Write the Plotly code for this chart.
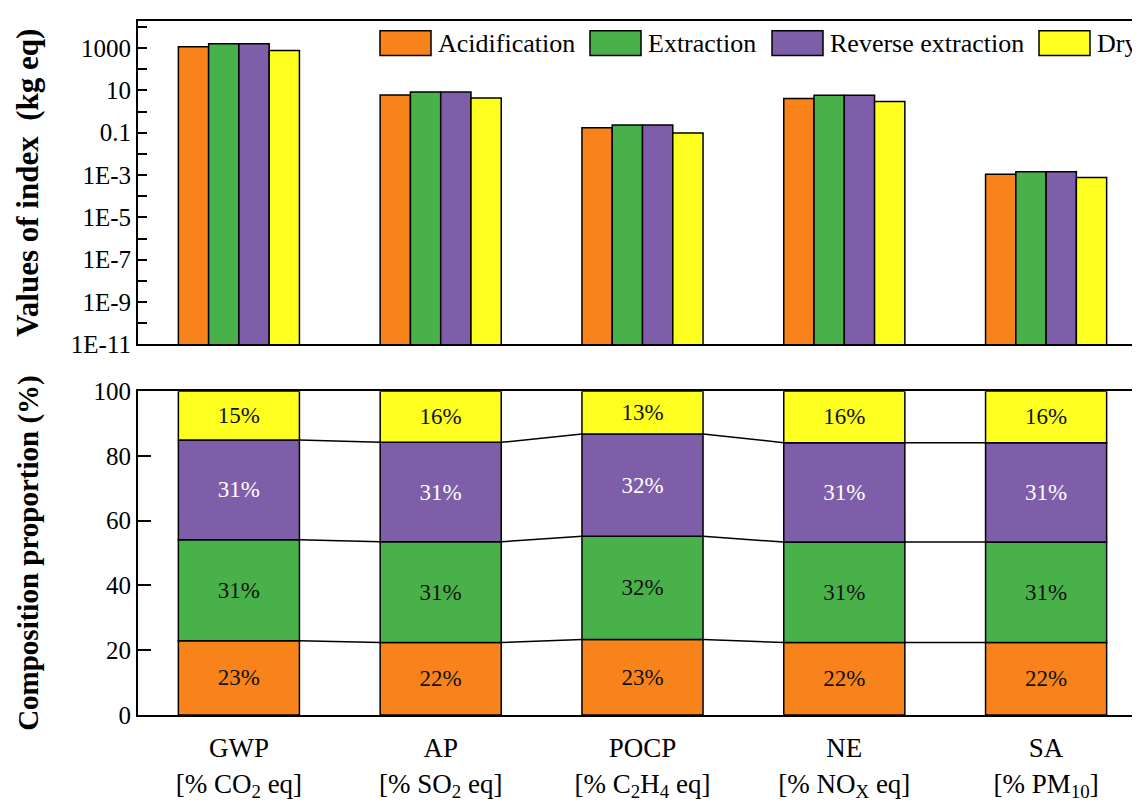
import numpy as np
import plotly.graph_objects as go

# ---------------- data ----------------
categories = ["GWP", "AP", "POCP", "NE", "SA"]
category_labels = [
    "GWP<br>[% CO<sub>2</sub> eq]",
    "AP<br>[% SO<sub>2</sub> eq]",
    "POCP<br>[% C<sub>2</sub>H<sub>4</sub> eq]",
    "NE<br>[% NO<sub>X</sub> eq]",
    "SA<br>[% PM<sub>10</sub>]",
]
series = ["Acidification", "Extraction", "Reverse extraction", "Dry"]

# top panel: values of index (kg eq), log scale
acidification = [1150, 6.0, 0.17, 4.2, 1.08e-3]
extraction = [1600, 8.3, 0.235, 5.9, 1.45e-3]
reverse_extraction = [1600, 8.3, 0.235, 5.9, 1.45e-3]
dry = [770, 4.4, 0.096, 3.0, 7.6e-4]

# bottom panel: composition proportion (%)
pct_acidification = [22.9, 22.4, 23.3, 22.4, 22.4]
pct_extraction = [31.2, 31.1, 31.9, 31.0, 31.0]
pct_reverse_extraction = [30.8, 30.7, 31.6, 30.7, 30.7]
pct_dry = [15.1, 15.8, 13.2, 15.9, 15.9]

y_tick_vals = [1e3, 1e1, 1e-1, 1e-3, 1e-5, 1e-7, 1e-9, 1e-11]
y_tick_text = ["1000", "10", "0.1", "1E-3", "1E-5", "1E-7", "1E-9", "1E-11"]
y_minor_vals = [1e4, 1e2, 1e0, 1e-2, 1e-4, 1e-6, 1e-8, 1e-10]

# ---------------- style ----------------
colors = ["#F8831A", "#49B14A", "#7E5EA8", "#FFFF1F"]
text_colors = ["#111111", "#111111", "#FFFFFF", "#111111"]
FONT = "Liberation Serif, Times New Roman, serif"
OFF = 8                      # page body margin of the html page
W, H = 1140 - OFF, 806 - OFF
ML, MR, MT = 138 - OFF, 0, 11 - OFF
MB = H - (715 - OFF)
BAR_W = 0.6

top_vals = [acidification, extraction, reverse_extraction, dry]
pct_vals = [pct_acidification, pct_extraction, pct_reverse_extraction, pct_dry]
xpos = np.arange(len(categories))

fig = go.Figure()

# top grouped log bars
for name, vals, col in zip(series, top_vals, colors):
    fig.add_trace(go.Bar(
        x=xpos, y=vals, name=name, marker=dict(color=col, line=dict(color="black", width=1.5)),
        xaxis="x", yaxis="y", showlegend=False,
    ))

# bottom stacked bars (explicit base)
base = np.zeros(len(categories))
bounds = []
for name, vals, col, tcol in zip(series, pct_vals, colors, text_colors):
    vals = np.array(vals)
    fig.add_trace(go.Bar(
        x=xpos, y=vals, base=base.copy(), name=name,
        width=BAR_W, offset=-BAR_W / 2,
        marker=dict(color=col, line=dict(color="black", width=1.5)),
        texttemplate="%{y:.0f}%", textposition="inside", insidetextanchor="middle",
        textangle=0, constraintext="none",
        textfont=dict(family=FONT, size=23, color=tcol),
        xaxis="x2", yaxis="y2", showlegend=False,
    ))
    base = base + vals
    bounds.append(base.copy())

# connecting lines between stacked bars
for b in bounds[:-1]:
    lx, ly = [], []
    for i in range(len(categories) - 1):
        lx += [xpos[i] + BAR_W / 2, xpos[i + 1] - BAR_W / 2, None]
        ly += [b[i], b[i + 1], None]
    fig.add_trace(go.Scatter(x=lx, y=ly, mode="lines", line=dict(color="black", width=1.5),
                             xaxis="x2", yaxis="y2", showlegend=False, hoverinfo="skip"))

# ---------------- layout ----------------
plot_w = W - ML - MR
plot_h = H - MT - MB
px_per_unit = 201.8
x_range = [-0.5, -0.5 + plot_w / px_per_unit]

def ypaper(py):
    # py: screen pixel y
    return (H - MB - (py - OFF)) / plot_h

def xpaper(px):
    return (px - OFF - ML) / plot_w

top_domain = [ypaper(339), 1]
bot_domain = [0, ypaper(386.5)]

axis_common = dict(showline=True, linecolor="black", linewidth=2, showgrid=False, zeroline=False)

fig.update_layout(
    width=W, height=H,
    margin=dict(l=ML, r=MR, t=MT, b=MB),
    paper_bgcolor="white", plot_bgcolor="white",
    barmode="group", bargap=0.4, bargroupgap=0,
    font=dict(family=FONT, color="black"),
    xaxis=dict(domain=[0, 1], anchor="y", range=x_range, mirror=True, ticks="",
               showticklabels=False, **axis_common),
    yaxis=dict(domain=top_domain, anchor="x", type="log", range=[-11, 4.28],
               tickmode="array", tickvals=y_tick_vals, ticktext=y_tick_text,
               ticks="inside", ticklen=9, tickwidth=2, tickcolor="black",
               minor=dict(tickvals=y_minor_vals, ticks="inside", ticklen=9, tickwidth=2, tickcolor="black"),
               tickfont=dict(family=FONT, size=25), ticklabelstandoff=0,
               title=dict(text="<b>Values of index  (kg eq)</b>", font=dict(family=FONT, size=31), standoff=23),
               **axis_common),
    xaxis2=dict(domain=[0, 1], anchor="y2", range=x_range, mirror=True, ticks="",
                tickmode="array", tickvals=xpos, ticktext=category_labels,
                tickfont=dict(family=FONT, size=27), ticklabelstandoff=8,
                **axis_common),
    yaxis2=dict(domain=bot_domain, anchor="x2", range=[0, 100],
                tickmode="array", tickvals=[0, 20, 40, 60, 80, 100],
                ticks="inside", ticklen=13, tickwidth=2, tickcolor="black",
                tickfont=dict(family=FONT, size=25), ticklabelstandoff=0,
                title=dict(text="<b>Composition proportion (%)</b>", font=dict(family=FONT, size=29), standoff=46),
                **axis_common),
)

# manual legend (large swatches like the original)
legend_x_px = [380, 590, 772, 1039]
sw_w, sw_top, sw_bot = 51, 21, 46
for name, col, lx in zip(series, colors, legend_x_px):
    fig.add_shape(type="rect", xref="paper", yref="paper",
                  x0=xpaper(lx), x1=xpaper(lx + sw_w), y0=ypaper(sw_bot), y1=ypaper(sw_top),
                  fillcolor=col, line=dict(color="black", width=1.5))
    fig.add_annotation(xref="paper", yref="paper", x=xpaper(lx + sw_w + 5), y=ypaper((sw_top + sw_bot) / 2),
                       text=name, showarrow=False, xanchor="left", yanchor="middle",
                       font=dict(family=FONT, size=26, color="black"))

fig.write_html("out.html")
